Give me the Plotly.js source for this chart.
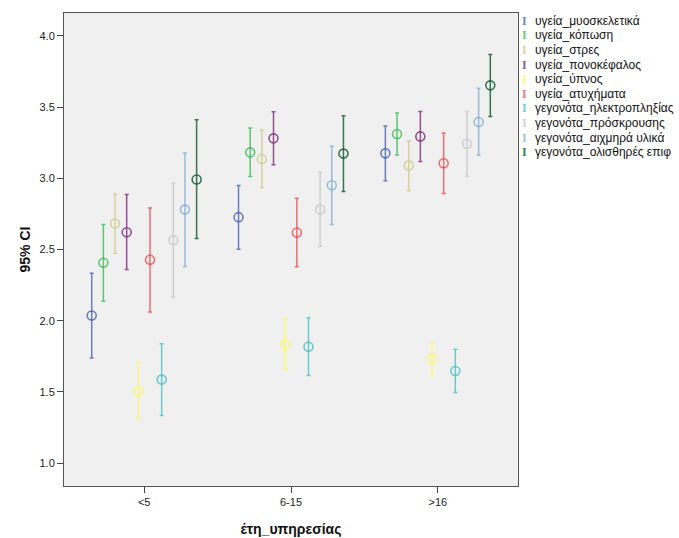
<!DOCTYPE html>
<html>
<head>
<meta charset="utf-8">
<script src="https://cdn.plot.ly/plotly-3.0.1.min.js"></script>
<style>html,body{margin:0;padding:0;background:#fff;}#chart{width:679px;height:538px;}</style>
</head>
<body>
<div id="chart"></div>
<script>
const categories = ["<5", "6-15", ">16"];
const seriesNames = [
  "υγεία_μυοσκελετικά", "υγεία_κόπωση", "υγεία_στρες", "υγεία_πονοκέφαλος",
  "υγεία_ύπνος", "υγεία_ατυχήματα", "γεγονότα_ηλεκτροπληξίας",
  "γεγονότα_πρόσκρουσης", "γεγονότα_αιχμηρά υλικά", "γεγονότα_ολισθηρές επιφ"
];
const means = [
  [2.037, 2.727, 3.175],
  [2.407, 3.182, 3.311],
  [2.682, 3.136, 3.089],
  [2.621, 3.280, 3.294],
  [1.507, 1.834, 1.734],
  [2.428, 2.619, 3.105],
  [1.587, 1.818, 1.647],
  [2.565, 2.780, 3.243],
  [2.780, 2.951, 3.395],
  [2.991, 3.173, 3.652]
];
const lower = [
  [1.738, 2.502, 2.982],
  [2.136, 3.012, 3.164],
  [2.474, 2.935, 2.914],
  [2.360, 3.094, 3.117],
  [1.313, 1.657, 1.612],
  [2.061, 2.379, 2.893],
  [1.334, 1.615, 1.496],
  [2.166, 2.523, 3.014],
  [2.381, 2.675, 3.161],
  [2.578, 2.907, 3.434]
];
const upper = [
  [2.334, 2.949, 3.367],
  [2.675, 3.353, 3.458],
  [2.890, 3.339, 3.264],
  [2.886, 3.467, 3.469],
  [1.706, 2.016, 1.850],
  [2.792, 2.860, 3.318],
  [1.839, 2.021, 1.799],
  [2.965, 3.040, 3.469],
  [3.178, 3.224, 3.631],
  [3.411, 3.439, 3.869]
];
const colors = [
  "rgba(62,88,172,0.75)", "rgba(46,184,72,0.75)", "rgba(211,206,151,0.9)",
  "rgba(124,40,125,0.8)", "rgba(251,248,115,0.95)", "rgba(239,51,56,0.7)",
  "rgba(72,194,197,0.8)", "rgba(204,204,204,0.9)", "rgba(122,170,213,0.75)",
  "rgba(10,86,44,0.8)"
];

const step = 0.0794;
const n = seriesNames.length;
const traces = seriesNames.map((name, k) => ({
  type: "scatter",
  mode: "markers",
  name: name,
  x: categories.map((c, i) => i + (k - (n - 1) / 2) * step),
  y: means[k],
  marker: {symbol: "circle-open", size: 9, color: colors[k], line: {width: 1.6, color: colors[k]}},
  error_y: {
    type: "data", symmetric: false,
    array: means[k].map((m, i) => upper[k][i] - m),
    arrayminus: means[k].map((m, i) => m - lower[k][i]),
    color: colors[k], thickness: 1.5, width: 2
  },
  showlegend: false,
  hoverinfo: "name+y"
}));

const plotTop = 13, plotBottom = 486, plotLeft = 64, plotRight = 518;
const annotations = [];
seriesNames.forEach((name, k) => {
  const ypx = 20.7 + k * 14.6;
  const yp = (plotBottom - ypx) / (plotBottom - plotTop);
  annotations.push({
    xref: "paper", yref: "paper",
    x: (524 - plotLeft) / (plotRight - plotLeft), y: yp,
    xanchor: "center", yanchor: "middle", showarrow: false,
    text: "<b>I</b>", font: {family: "Liberation Serif", size: 12, color: colors[k]}
  });
  annotations.push({
    xref: "paper", yref: "paper",
    x: (533 - plotLeft) / (plotRight - plotLeft), y: yp,
    xanchor: "left", yanchor: "middle", showarrow: false,
    text: name, font: {family: "Liberation Sans", size: 12, color: "#111"}
  });
});

const layout = {
  width: 679, height: 538,
  margin: {l: plotLeft, r: 679 - plotRight, t: plotTop, b: 538 - plotBottom, pad: 0},
  paper_bgcolor: "#ffffff",
  plot_bgcolor: "#f0f0f0",
  font: {family: "Liberation Sans", size: 11, color: "#222"},
  showlegend: false,
  xaxis: {
    type: "linear",
    range: [-0.546, 2.546],
    tickvals: categories.map((c, i) => i),
    ticktext: categories,
    ticks: "outside", ticklen: 6, tickcolor: "#444", tickwidth: 1,
    showgrid: false, zeroline: false,
    showline: true, mirror: true, linecolor: "#555", linewidth: 1,
    tickfont: {size: 11, color: "#222"},
    title: {text: "έτη_υπηρεσίας", font: {size: 14, color: "#111", weight: "bold"}, standoff: 16}
  },
  yaxis: {
    range: [0.84, 4.16],
    tickvals: [1.0, 1.5, 2.0, 2.5, 3.0, 3.5, 4.0],
    ticktext: ["1.0", "1.5", "2.0", "2.5", "3.0", "3.5", "4.0"],
    ticks: "outside", ticklen: 6, tickcolor: "#444", tickwidth: 1,
    showgrid: false, zeroline: false,
    showline: true, mirror: true, linecolor: "#555", linewidth: 1,
    tickfont: {size: 11, color: "#222"},
    title: {text: "95% CI", font: {size: 14, color: "#111", weight: "bold"}, standoff: 5}
  },
  annotations: annotations
};

Plotly.newPlot("chart", traces, layout, {displayModeBar: false, staticPlot: true});
</script>
</body>
</html>
